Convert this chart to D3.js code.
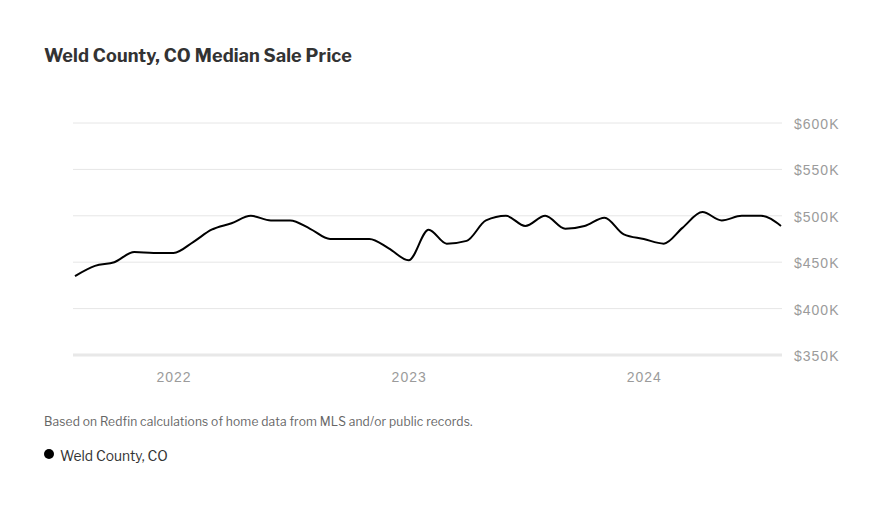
<!DOCTYPE html>
<html><head><meta charset="utf-8">
<script src="https://cdn.jsdelivr.net/npm/d3@7"></script>
<style>body{margin:0;background:#fff;} svg{display:block;font-family:"Libre Franklin",Inter,"Noto Sans",sans-serif;}</style>
</head><body><div id="chart"></div>
<script>
const months = ["2021-08","2021-09","2021-10","2021-11","2021-12","2022-01","2022-02","2022-03","2022-04","2022-05","2022-06","2022-07","2022-08","2022-09","2022-10","2022-11","2022-12","2023-01","2023-02","2023-03","2023-04","2023-05","2023-06","2023-07","2023-08","2023-09","2023-10","2023-11","2023-12","2024-01","2024-02","2024-03","2024-04","2024-05","2024-06","2024-07","2024-08"];
const prices = [435,446,450,461,460,460,472,485,492,500,495,495,486,475,475,475,465,452,485,470,473,495,500,489,500,486,489,498,480,475,470,487,504,495,500,500,489];
const yTicks = [350,400,450,500,550,600];
const xTickLabels = ["2022","2023","2024"];
const seriesName = "Weld County, CO";

const W=888,H=509;
const svg=d3.select("#chart").append("svg").attr("width",W).attr("height",H);
const parse=d3.timeParse("%Y-%m");
const data=months.map((m,i)=>({d:parse(m),v:prices[i]}));
const x=d3.scaleTime().domain(d3.extent(data,d=>d.d)).range([75,781]);
const y=d3.scaleLinear().domain([350,600]).range([355,123]);

svg.append("text").attr("x",44).attr("y",62).attr("font-size",18).attr("font-weight",700).attr("fill","#333").attr("letter-spacing",0.13).text("Weld County, CO Median Sale Price");

const yAxis=d3.axisRight(y).tickValues(yTicks).tickSize(0).tickFormat(d=>"$"+d+"K");
const gy=svg.append("g").attr("transform","translate(794,1)").call(yAxis);
gy.select(".domain").remove();
gy.selectAll("text").attr("font-size",14).attr("fill","#9b9b9b").attr("letter-spacing",1).attr("x",0).style("font-family","inherit");

svg.append("g").selectAll("line").data(yTicks).join("line")
  .attr("x1",73).attr("x2",782).attr("y1",d=>y(d)).attr("y2",d=>y(d))
  .attr("stroke",d=>d===350?"#e8e8e8":"#e6e6e6").attr("stroke-width",d=>d===350?3:1);

const xAxis=d3.axisBottom(x).tickValues(xTickLabels.map(t=>parse(t+"-01"))).tickSize(0).tickFormat(d3.timeFormat("%Y"));
const gx=svg.append("g").attr("transform","translate(0,372)").call(xAxis);
gx.select(".domain").remove();
gx.selectAll("text").attr("font-size",14).attr("fill","#9b9b9b").attr("letter-spacing",1).attr("y",0).attr("dy","0.71em").style("font-family","inherit");

svg.append("path").datum(data).attr("fill","none").attr("stroke","#000").attr("stroke-width",2)
  .attr("d",d3.line().x(d=>x(d.d)).y(d=>y(d.v)).curve(d3.curveMonotoneX));

svg.append("text").attr("x",44).attr("y",426).attr("font-size",12).attr("fill","#666").attr("letter-spacing",0.15).text("Based on Redfin calculations of home data from MLS and/or public records.");
svg.append("circle").attr("cx",49).attr("cy",454).attr("r",5).attr("fill","#000");
svg.append("text").attr("x",60).attr("y",461).attr("font-size",13.8).attr("fill","#333").text(seriesName);
</script></body></html>
